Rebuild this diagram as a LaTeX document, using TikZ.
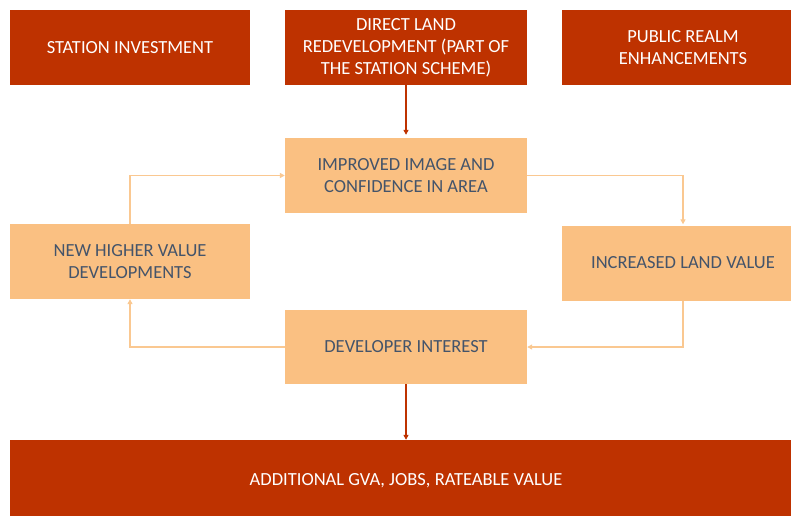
\documentclass[tikz,border=0pt]{standalone}
\usepackage{fontspec}
\setmainfont{Carlito}
\usetikzlibrary{arrows.meta,positioning,calc}
\definecolor{ladrillo}{RGB}{190,50,0}
\definecolor{melocoton}{RGB}{250,192,130}
\definecolor{flecha}{RGB}{250,200,145}
\definecolor{pizarra}{RGB}{68,84,106}
\tikzset{
  rojo/.style={fill=ladrillo, text=white, align=center, inner sep=2pt, font=\fontsize{18.5}{22}\selectfont},
  claro/.style={fill=melocoton, text=pizarra, align=center, inner sep=2pt, font=\fontsize{18.5}{22}\selectfont},
  flrojo/.style={-{Triangle[length=5pt,width=5pt]}, line width=1.2pt, ladrillo},
  flclaro/.style={-{Triangle[length=5pt,width=5pt]}, line width=1.8pt, flecha},
}
\begin{document}
\begin{tikzpicture}[x=1pt, y=-1pt]
  \useasboundingbox (0,0) rectangle (791,515);
  % fila superior
  \node[rojo, minimum width=240pt, minimum height=75pt] (estacion) at (130,47.5) {STATION INVESTMENT};
  \node[rojo, minimum width=242pt, minimum height=75pt] (directo) at (406,47.5) {DIRECT LAND\\ REDEVELOPMENT (PART OF\\ THE STATION SCHEME)};
  \node[rojo, minimum width=242pt, minimum height=75pt] (publico) at (683,47.5) {PUBLIC REALM\\ ENHANCEMENTS};
  % ciclo
  \node[claro, minimum width=242pt, minimum height=75pt] (imagen) at (406,175.5) {IMPROVED IMAGE AND\\ CONFIDENCE IN AREA};
  \node[claro, minimum width=240pt, minimum height=75pt] (nuevos) at (130,261.5) {NEW HIGHER VALUE\\ DEVELOPMENTS};
  \node[claro, minimum width=242pt, minimum height=75pt] (suelo) at (683,263) {INCREASED LAND VALUE};
  \node[claro, minimum width=242pt, minimum height=74pt] (promotor) at (406,347) {DEVELOPER INTEREST};
  \node[rojo, minimum width=792pt, minimum height=82pt] (gva) at (406,481) {ADDITIONAL GVA, JOBS, RATEABLE VALUE};
  \draw[flrojo] (directo) -- ($(imagen.north)+(0,-3)$);
  \draw[flclaro] (imagen.east) -| ($(suelo.north)+(0,-1)$);
  \draw[flclaro] (suelo.south) |- (promotor.east);
  \draw[flclaro] (promotor.west) -| (nuevos.south);
  \draw[flclaro] (nuevos.north) |- (imagen.west);
  \draw[flrojo] (promotor.south) -- (gva.north);
\end{tikzpicture}
\end{document}
